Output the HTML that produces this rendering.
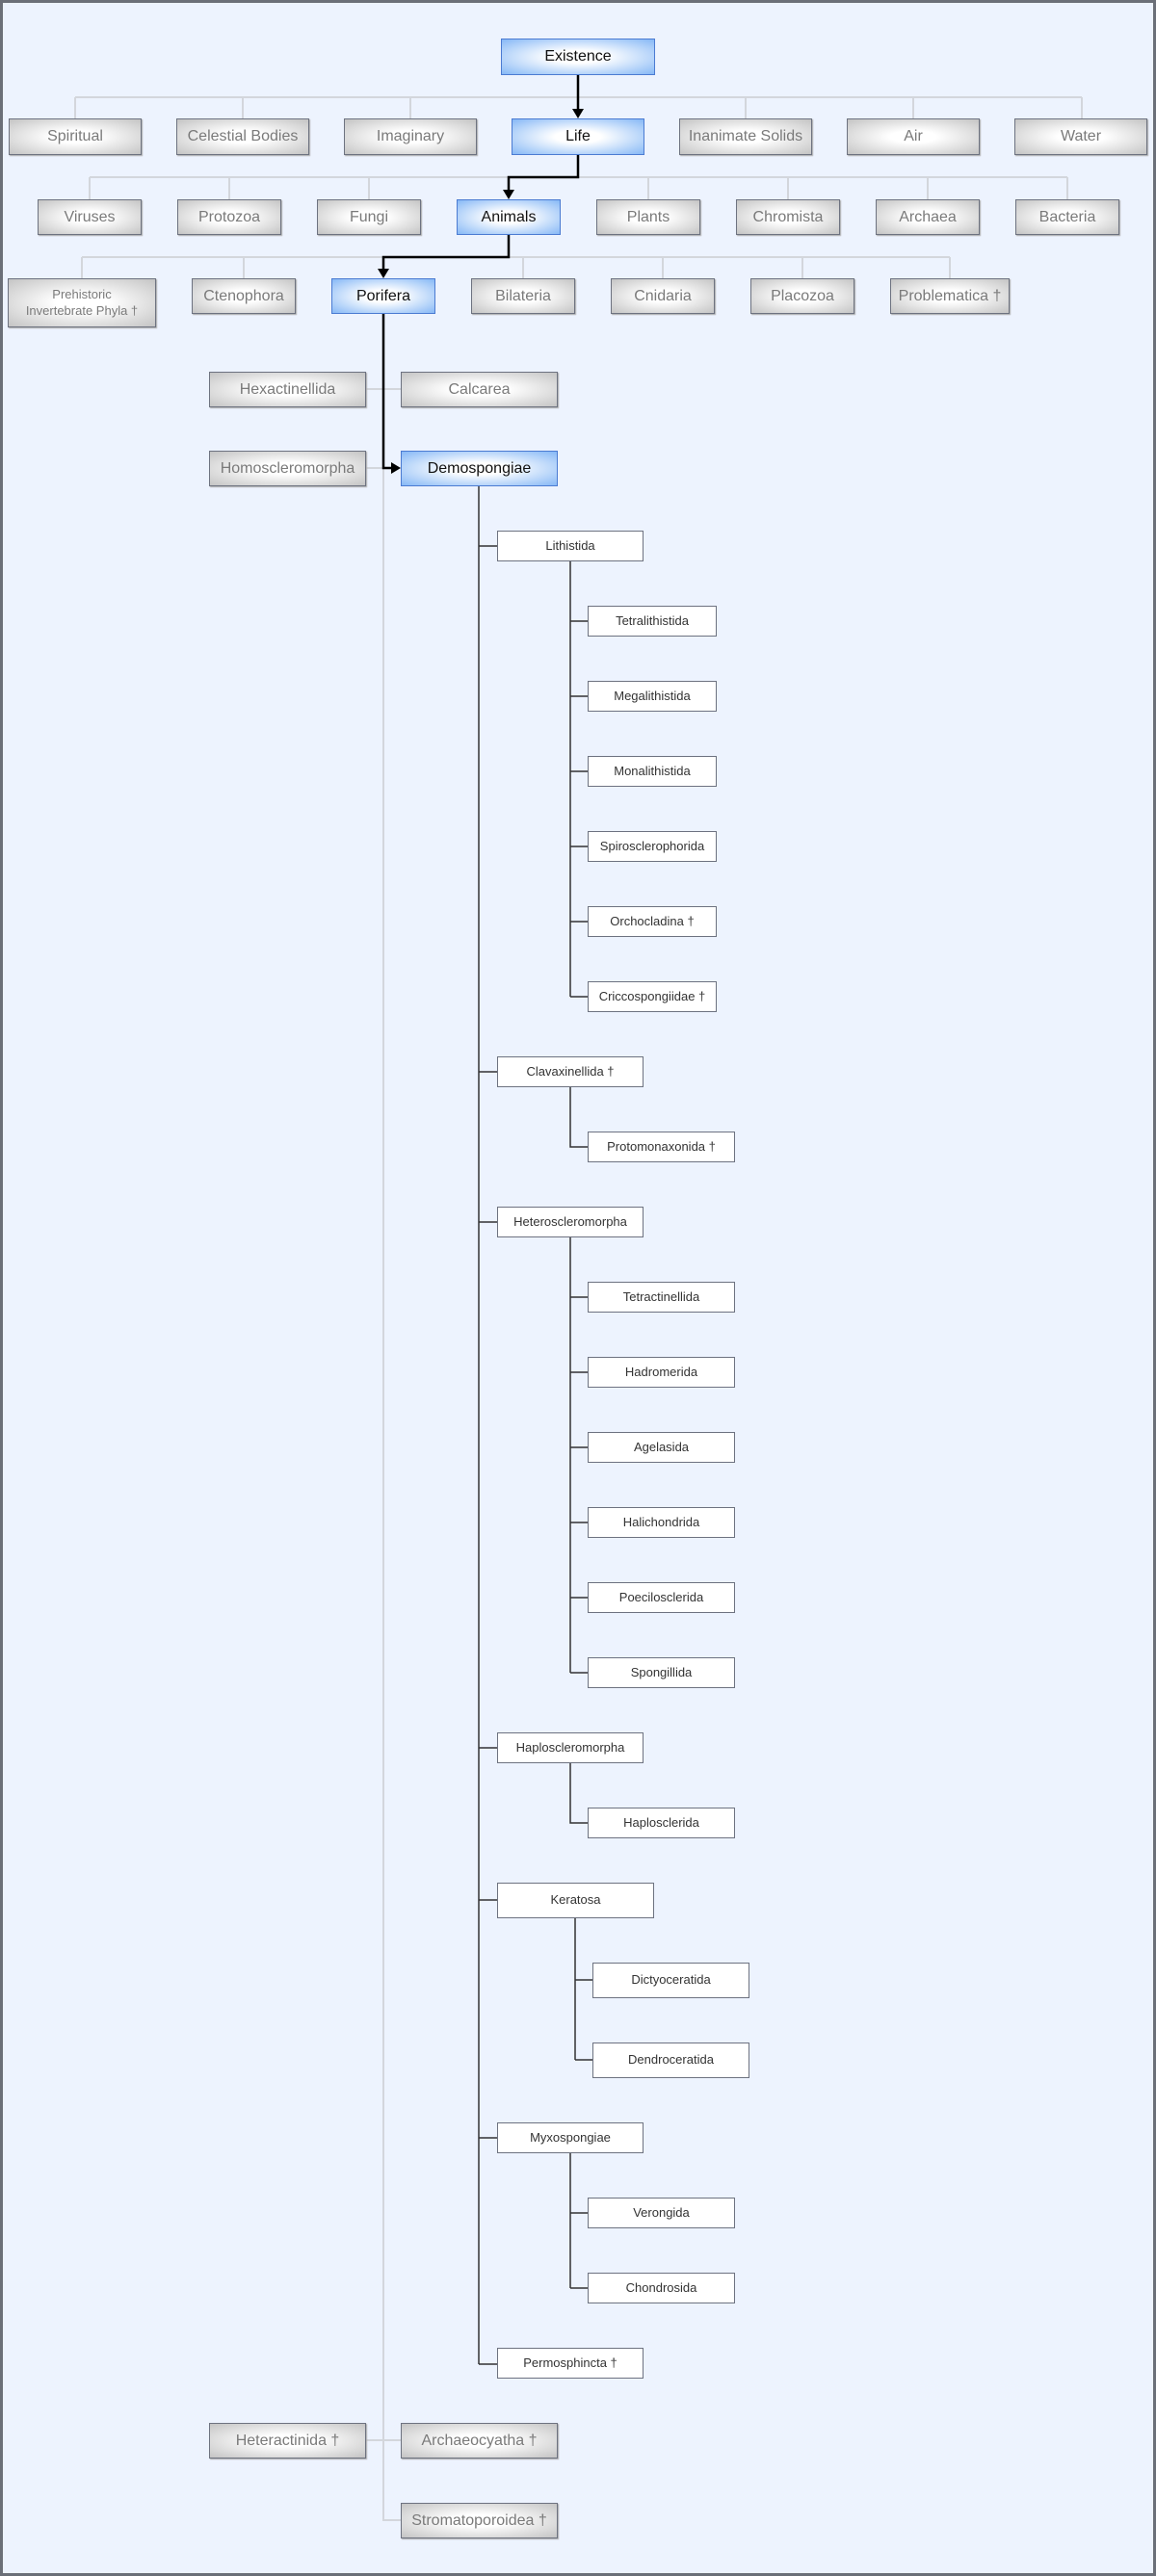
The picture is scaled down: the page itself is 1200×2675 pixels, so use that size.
<!DOCTYPE html>
<html><head><meta charset="utf-8">
<style>
html,body{margin:0;padding:0}
body{width:1200px;height:2675px;position:relative;background:#edf3fe;overflow:hidden;font-family:"Liberation Sans",sans-serif}
.frame{position:absolute;left:0;top:0;width:1194px;height:2669px;border:3px solid #6b6f78}
.b{position:absolute;box-sizing:border-box;display:flex;align-items:center;justify-content:center;text-align:center;line-height:1.25}
.g{border:1px solid #6d7280;background:radial-gradient(ellipse at center,#fff 25%,#c4c4c4 100%);color:#7a7a7a;font-size:16px;box-shadow:1px 1px 1px #aaa}
.bl{border:1px solid #4b7bd2;background:radial-gradient(ellipse at center,#fff 25%,#86b8f6 100%);color:#111;font-size:16px}
.w{border:1px solid #6d7280;background:#fff;color:#333;font-size:13px}
svg{position:absolute;left:0;top:0}
</style></head><body>
<div class="frame"></div>
<svg width="1200" height="2675">
<g stroke="#d3d6dc" stroke-width="2" fill="none">
<path d="M78 101H1123M78 101V123M252 101V123M426 101V123M774 101V123M948 101V123M1123 101V123"/>
<path d="M93 184H1108M93 184V207M238 184V207M383 184V207M673 184V207M818 184V207M963 184V207M1108 184V207"/>
<path d="M85 267H986M85 267V289M253 267V289M543 267V289M688 267V289M833 267V289M986 267V289"/>
<path d="M380 404H416M380 486H398M398 486V2617H416M380 2534H416"/>
</g>
<g stroke="#000" stroke-width="2.5" fill="none">
<path d="M600 78V115M600 161V184H528V199M528 244V267H398V281M398 326V486H408"/>
</g>
<g fill="#000">
<path d="M594 113L606 113L600 123Z"/><path d="M522 197L534 197L528 207Z"/><path d="M392 279L404 279L398 289Z"/><path d="M406 480L406 492L416 486Z"/>
</g>
<g stroke="#333" stroke-width="1.5" fill="none">
<path d="M497 505V2455"/>
<path d="M497 567H516M497 1113H516M497 1269H516M497 1815H516M497 1973H516M497 2220H516M497 2455H516"/>
<path d="M592 583V1035M592 645H610M592 723H610M592 801H610M592 879H610M592 957H610M592 1035H610"/>
<path d="M592 1129V1191H610"/>
<path d="M592 1285V1737M592 1347H610M592 1425H610M592 1503H610M592 1581H610M592 1659H610M592 1737H610"/>
<path d="M592 1831V1893H610"/>
<path d="M597 1992V2139M597 2056H615M597 2139H615"/>
<path d="M592 2236V2376M592 2298H610M592 2376H610"/>
</g>
</svg>
<div class="b bl" style="left:520px;top:40px;width:160px;height:38px">Existence</div>
<div class="b g" style="left:9px;top:123px;width:138px;height:38px">Spiritual</div>
<div class="b g" style="left:183px;top:123px;width:138px;height:38px">Celestial Bodies</div>
<div class="b g" style="left:357px;top:123px;width:138px;height:38px">Imaginary</div>
<div class="b bl" style="left:531px;top:123px;width:138px;height:38px">Life</div>
<div class="b g" style="left:705px;top:123px;width:138px;height:38px">Inanimate Solids</div>
<div class="b g" style="left:879px;top:123px;width:138px;height:38px">Air</div>
<div class="b g" style="left:1053px;top:123px;width:138px;height:38px">Water</div>

<div class="b g" style="left:39px;top:207px;width:108px;height:37px">Viruses</div>
<div class="b g" style="left:184px;top:207px;width:108px;height:37px">Protozoa</div>
<div class="b g" style="left:329px;top:207px;width:108px;height:37px">Fungi</div>
<div class="b bl" style="left:474px;top:207px;width:108px;height:37px">Animals</div>
<div class="b g" style="left:619px;top:207px;width:108px;height:37px">Plants</div>
<div class="b g" style="left:764px;top:207px;width:108px;height:37px">Chromista</div>
<div class="b g" style="left:909px;top:207px;width:108px;height:37px">Archaea</div>
<div class="b g" style="left:1054px;top:207px;width:108px;height:37px">Bacteria</div>

<div class="b g" style="left:8px;top:289px;width:154px;height:51px;font-size:13px">Prehistoric<br>Invertebrate Phyla †</div>
<div class="b g" style="left:199px;top:289px;width:108px;height:37px">Ctenophora</div>
<div class="b bl" style="left:344px;top:289px;width:108px;height:37px">Porifera</div>
<div class="b g" style="left:489px;top:289px;width:108px;height:37px">Bilateria</div>
<div class="b g" style="left:634px;top:289px;width:108px;height:37px">Cnidaria</div>
<div class="b g" style="left:779px;top:289px;width:108px;height:37px">Placozoa</div>
<div class="b g" style="left:924px;top:289px;width:124px;height:37px">Problematica †</div>

<div class="b g" style="left:217px;top:386px;width:163px;height:37px">Hexactinellida</div>
<div class="b g" style="left:416px;top:386px;width:163px;height:37px">Calcarea</div>
<div class="b g" style="left:217px;top:468px;width:163px;height:37px">Homoscleromorpha</div>
<div class="b bl" style="left:416px;top:468px;width:163px;height:37px">Demospongiae</div>

<div class="b w" style="left:516px;top:551px;width:152px;height:32px">Lithistida</div>
<div class="b w" style="left:610px;top:629px;width:134px;height:32px">Tetralithistida</div>
<div class="b w" style="left:610px;top:707px;width:134px;height:32px">Megalithistida</div>
<div class="b w" style="left:610px;top:785px;width:134px;height:32px">Monalithistida</div>
<div class="b w" style="left:610px;top:863px;width:134px;height:32px">Spirosclerophorida</div>
<div class="b w" style="left:610px;top:941px;width:134px;height:32px">Orchocladina †</div>
<div class="b w" style="left:610px;top:1019px;width:134px;height:32px">Criccospongiidae †</div>
<div class="b w" style="left:516px;top:1097px;width:152px;height:32px">Clavaxinellida †</div>
<div class="b w" style="left:610px;top:1175px;width:153px;height:32px">Protomonaxonida †</div>
<div class="b w" style="left:516px;top:1253px;width:152px;height:32px">Heteroscleromorpha</div>
<div class="b w" style="left:610px;top:1331px;width:153px;height:32px">Tetractinellida</div>
<div class="b w" style="left:610px;top:1409px;width:153px;height:32px">Hadromerida</div>
<div class="b w" style="left:610px;top:1487px;width:153px;height:32px">Agelasida</div>
<div class="b w" style="left:610px;top:1565px;width:153px;height:32px">Halichondrida</div>
<div class="b w" style="left:610px;top:1643px;width:153px;height:32px">Poecilosclerida</div>
<div class="b w" style="left:610px;top:1721px;width:153px;height:32px">Spongillida</div>
<div class="b w" style="left:516px;top:1799px;width:152px;height:32px">Haploscleromorpha</div>
<div class="b w" style="left:610px;top:1877px;width:153px;height:32px">Haplosclerida</div>
<div class="b w" style="left:516px;top:1955px;width:163px;height:37px">Keratosa</div>
<div class="b w" style="left:615px;top:2038px;width:163px;height:37px">Dictyoceratida</div>
<div class="b w" style="left:615px;top:2121px;width:163px;height:37px">Dendroceratida</div>
<div class="b w" style="left:516px;top:2204px;width:152px;height:32px">Myxospongiae</div>
<div class="b w" style="left:610px;top:2282px;width:153px;height:32px">Verongida</div>
<div class="b w" style="left:610px;top:2360px;width:153px;height:32px">Chondrosida</div>
<div class="b w" style="left:516px;top:2438px;width:152px;height:32px">Permosphincta †</div>

<div class="b g" style="left:217px;top:2516px;width:163px;height:37px">Heteractinida †</div>
<div class="b g" style="left:416px;top:2516px;width:163px;height:37px">Archaeocyatha †</div>
<div class="b g" style="left:416px;top:2599px;width:163px;height:37px">Stromatoporoidea †</div>
</body></html>
